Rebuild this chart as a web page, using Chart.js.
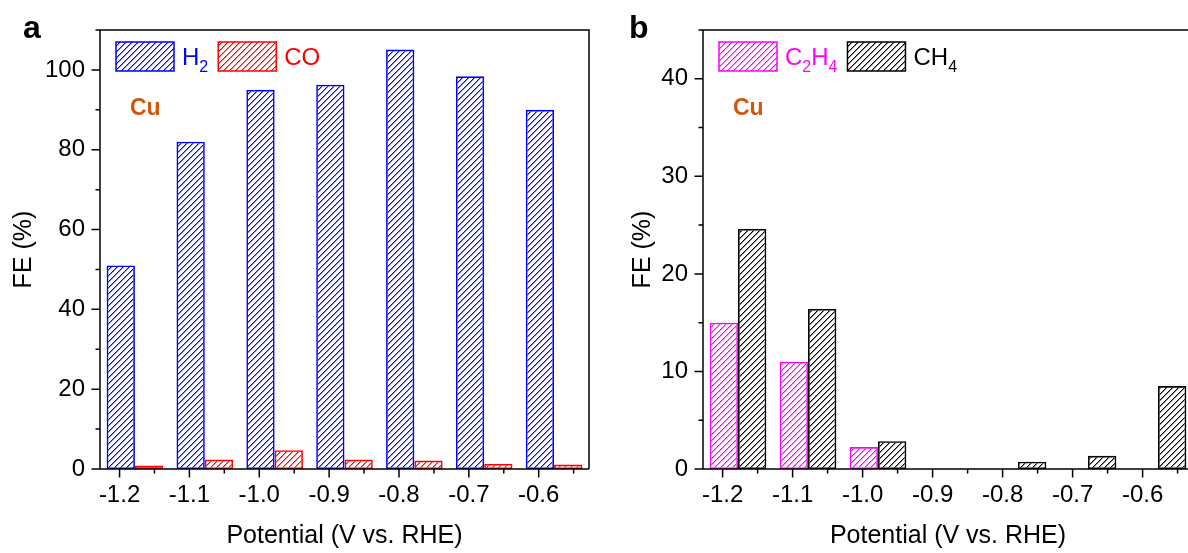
<!DOCTYPE html>
<html>
<head>
<meta charset="utf-8">
<script src="https://cdn.jsdelivr.net/npm/chart.js@4.4.0/dist/chart.umd.min.js"></script>
<style>
  html, body { margin: 0; padding: 0; background: #fff; width: 1188px; height: 553px; overflow: hidden; position: relative; }
  canvas { position: absolute; top: 0; }
  #chartA { left: 0; }
  #chartB { left: 600px; }
  .tag { position: absolute; z-index: 2; font: bold 32px "Liberation Sans", Arial, sans-serif; line-height: 32px; color: #000; }
</style>
</head>
<body>
<canvas id="chartA" width="600" height="553"></canvas>
<canvas id="chartB" width="600" height="553"></canvas>
<div class="tag" style="left:23px; top:11px;">a</div>
<div class="tag" style="left:629px; top:11px;">b</div>
<script>
// potentials (V vs. RHE)
const potentials = ['-1.2', '-1.1', '-1.0', '-0.9', '-0.8', '-0.7', '-0.6'];
const potentialTicks = [-1.2, -1.1, -1.0, -0.9, -0.8, -0.7, -0.6];

// panel a: FE (%)
const feH2 = [51, 82, 95, 96.3, 105.1, 98.4, 90];
const feCO = [0.85, 2.35, 4.7, 2.35, 2.1, 1.25, 1.1];

// panel b: FE (%)
const feC2H4 = [15, 11, 2.25, 0, 0, 0, 0];
const feCH4 = [24.6, 16.4, 2.85, 0, 0.75, 1.35, 8.5];

// legend names ("_n" = subscript)
const namesA = ['H_2', 'CO'];
const namesB = ['C_2H_4', 'CH_4'];

const FONT = '"Liberation Sans", Arial, sans-serif';
Chart.defaults.font.family = FONT;
Chart.defaults.color = '#000';

// diagonal hatch fill like Origin's "////"
function hatch(color) {
  const s = 6;
  const c = document.createElement('canvas');
  c.width = s; c.height = s;
  const g = c.getContext('2d');
  g.fillStyle = color;
  for (let i = 0; i < s; i++) {
    g.globalAlpha = 1;
    g.fillRect(i, s - 1 - i, 1, 1);
    g.globalAlpha = 0.45;
    g.fillRect((i + 1) % s, s - 1 - i, 1, 1);
  }
  return g.createPattern(c, 'repeat');
}

function isMajor(v, step) {
  const r = v / step;
  return Math.abs(r - Math.round(r)) < 1e-6;
}

// ticks (major long, minor short) + frame
const axesPlugin = {
  id: 'axesPlugin',
  afterDatasetsDraw(chart, args, opts) {
    const { ctx, chartArea: a } = chart;
    const xs = chart.scales.x2, ys = chart.scales.y;
    ctx.save();
    ctx.strokeStyle = '#000';
    ctx.lineWidth = 1.5;
    ctx.beginPath();
    xs.ticks.forEach(t => {
      const px = xs.getPixelForValue(t.value);
      ctx.moveTo(px, a.bottom);
      ctx.lineTo(px, a.bottom + (t.label ? 8.5 : 4.5));
    });
    ys.ticks.forEach(t => {
      const py = ys.getPixelForValue(t.value);
      ctx.moveTo(a.left, py);
      ctx.lineTo(a.left - (t.label ? 8.5 : 4.5), py);
    });
    // frame
    ctx.moveTo(a.left, a.top);
    ctx.lineTo(a.left, a.bottom);
    ctx.lineTo(a.right, a.bottom);
    ctx.moveTo(a.left, a.top);
    ctx.lineTo(a.right, a.top);
    if (opts.rightBorder) ctx.lineTo(a.right, a.bottom);
    ctx.stroke();
    ctx.restore();
  }
};

// legend boxes with subscripts + "Cu" label
function drawRich(ctx, text, x, y, size) {
  const parts = text.split(/_(\d)/);
  parts.forEach((p, i) => {
    if (!p) return;
    const sub = i % 2 === 1;
    ctx.font = (sub ? 16 : size) + 'px ' + FONT;
    ctx.fillText(p, x, y + (sub ? 7 : 0));
    x += ctx.measureText(p).width;
  });
  return x;
}

const decorPlugin = {
  id: 'decor',
  afterDraw(chart, args, opts) {
    const { ctx, chartArea: a } = chart;
    ctx.save();
    let x = a.left + 16;
    const y = a.top + 12;
    chart.data.datasets.forEach(ds => {
      ctx.fillStyle = ds.backgroundColor;
      ctx.fillRect(x, y, 58, 29);
      ctx.strokeStyle = ds.borderColor;
      ctx.lineWidth = 1.5;
      ctx.strokeRect(x, y, 58, 29);
      ctx.fillStyle = ds.borderColor;
      ctx.textBaseline = 'alphabetic';
      ctx.textAlign = 'left';
      const end = drawRich(ctx, ds.label, x + 66, y + 23, 24);
      x = end + 10;
    });
    ctx.fillStyle = '#d3560e';
    ctx.font = 'bold 23px ' + FONT;
    ctx.fillText('Cu', a.left + 30, a.top + 85);
    ctx.restore();
  }
};

function makeChart(id, series, yMax, yStep, yLabelStep, yWidth, yTitlePad, padRight, rightBorder) {
  return new Chart(document.getElementById(id), {
    type: 'bar',
    data: {
      labels: potentials,
      datasets: series.map(s => ({
        label: s.name,
        data: s.data,
        backgroundColor: hatch(s.color),
        borderColor: s.color,
        borderWidth: 1.6,
        borderSkipped: false,
        categoryPercentage: 0.81,
        barPercentage: 1.0,
        xAxisID: 'x',
        yAxisID: 'y'
      }))
    },
    options: {
      responsive: false,
      animation: false,
      events: [],
      layout: { padding: { top: 30, right: padRight, bottom: 0, left: 0 } },
      plugins: {
        legend: { display: false },
        tooltip: { enabled: false },
        axesPlugin: { rightBorder: rightBorder }
      },
      scales: {
        x: { type: 'category', display: false, offset: true },
        x2: {
          type: 'linear',
          position: 'bottom',
          bounds: 'data',
          offset: false,
          min: -1.228,
          max: -0.528,
          afterFit: s => { s.height = 84; },
          // major ticks at each potential, minor ticks halfway
          afterBuildTicks: s => {
            const t = [];
            potentialTicks.forEach(v => { t.push({ value: v }); t.push({ value: v + 0.05 }); });
            s.ticks = t;
          },
          grid: { display: false, drawTicks: false, offset: false },
          border: { display: false },
          ticks: {
            autoSkip: false,
            maxRotation: 0,
            padding: 12,
            font: { size: 24 },
            color: '#000',
            callback: v => isMajor(v, 0.1) ? v.toFixed(1) : ''
          },
          title: {
            display: true,
            text: 'Potential (V vs. RHE)',
            font: { size: 25 },
            color: '#000',
            padding: { top: 0, bottom: 2 }
          }
        },
        y: {
          min: 0,
          max: yMax,
          afterFit: s => { s.width = yWidth; },
          grid: { display: false, drawTicks: false },
          border: { display: false },
          ticks: {
            stepSize: yStep,
            autoSkip: false,
            padding: 15,
            font: { size: 24 },
            color: '#000',
            callback: v => (v % yLabelStep === 0 ? String(v) : '')
          },
          title: {
            display: true,
            text: 'FE (%)',
            font: { size: 25 },
            color: '#000',
            padding: { top: yTitlePad, bottom: 0 }
          }
        }
      }
    },
    plugins: [axesPlugin, decorPlugin]
  });
}

makeChart('chartA', [
  { name: namesA[0], data: feH2, color: '#0000ff' },
  { name: namesA[1], data: feCO, color: '#ff0000' }
], 110, 10, 20, 100, 9, 11, true);

makeChart('chartB', [
  { name: namesB[0], data: feC2H4, color: '#ff00ff' },
  { name: namesB[1], data: feCH4, color: '#000000' }
], 45, 5, 10, 103, 28, 7, false);
</script>
</body>
</html>
